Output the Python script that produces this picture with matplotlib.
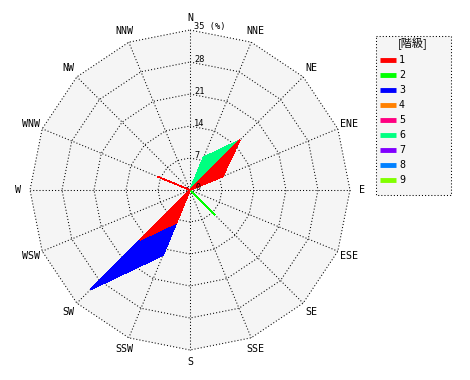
import numpy as np
import matplotlib
matplotlib.use("Agg")
import matplotlib.pyplot as plt
from matplotlib.patches import Polygon, Rectangle

# ---- data ----
directions = ['N', 'NNE', 'NE', 'ENE', 'E', 'ESE', 'SE', 'SSE',
              'S', 'SSW', 'SW', 'WSW', 'W', 'WNW', 'NW', 'NNW']
class_labels = ['1', '2', '3', '4', '5', '6', '7', '8', '9']
class_colors = ['#ff0000', '#00ff00', '#0000ff', '#ff8000', '#ff0080',
                '#00ff80', '#8000ff', '#0080ff', '#80ff00']
#            N  NNE   NE   ENE  E  ESE  SE  SSE S  SSW  SW   WSW W  WNW  NW NNW
class1 = [0, 0, 15.4, 7.7, 0, 0, 0, 0, 0, 7.7, 15.4, 0, 0, 7.7, 0, 0]
class2 = [0, 0, 0, 0, 0, 0, 7.7, 0, 0, 0, 0, 0, 0, 0, 0, 0]
class3 = [0, 0, 0, 0, 0, 0, 0, 0, 0, 7.7, 15.4, 0, 0, 0, 0, 0]
class4 = [0] * 16
class5 = [0] * 16
class6 = [0, 7.7, 0, 0, 0, 0, 0, 0, 0, 0, 0, 0, 0, 0, 0, 0]
class7 = [0] * 16
class8 = [0] * 16
class9 = [0] * 16
ring_ticks = [7, 14, 21, 28, 35]
legend_title = '[階級]'

series = np.array([class1, class2, class3, class4, class5,
                   class6, class7, class8, class9], dtype=float)
rmax = ring_ticks[-1]

# ---- figure ----
W, H = 470, 380
fig = plt.figure(figsize=(W / 100, H / 100), dpi=100)
fig.patch.set_facecolor('white')
ax = fig.add_axes([0, 0, 1, 1])
scale = 160 / rmax  # px per unit
cx, cy = 190, 190
ax.set_xlim(-cx / scale, (W - cx) / scale)
ax.set_ylim(-(H - cy) / scale, cy / scale)
ax.axis('off')

theta = np.deg2rad(np.arange(len(directions)) * 360 / len(directions))
sx, sy = np.sin(theta), np.cos(theta)

dotted = (0, (1, 2))
# background
ax.add_patch(Polygon(np.column_stack([rmax * sx, rmax * sy]), closed=True,
                     fc='#f5f5f5', ec='none', zorder=0))
# rings
for r in ring_ticks:
    xs = np.append(r * sx, r * sx[0])
    ys = np.append(r * sy, r * sy[0])
    ax.plot(xs, ys, color='black', lw=0.75, ls=dotted, zorder=1)
# spokes
for i in range(len(directions)):
    ax.plot([0, rmax * sx[i]], [0, rmax * sy[i]], color='black', lw=0.75,
            ls=dotted, zorder=1)

# stacked areas
cum = np.cumsum(series, axis=0)
for k in reversed(range(len(class_labels))):
    if not np.any(series[k] > 0):
        continue
    pts = np.column_stack([cum[k] * sx, cum[k] * sy])
    ax.add_patch(Polygon(pts, closed=True, fc=class_colors[k],
                         ec=class_colors[k], lw=0.5, zorder=3,
                         antialiased=False))

mono = 'DejaVu Sans Mono'
# direction labels
rl = 172 / scale
for i, d in enumerate(directions):
    ax.text(rl * sx[i], rl * sy[i], d, ha='center', va='center',
            fontsize=7.2, family=mono, color='black', zorder=5)
# ring labels
ax.text(5 / scale, 3 / scale, '0', ha='left', va='center', fontsize=6,
        family=mono, zorder=5)
for r in ring_ticks:
    lab = f'{r}' if r != rmax else f'{r} (%)'
    ax.text(4 / scale, r + 3 / scale, lab, ha='left', va='center',
            fontsize=6.2, family=mono, zorder=5)

# legend (pixel coordinate axes)
lx0, ly0, lw_, lh_ = 375, 35, 76, 160
lax = fig.add_axes([lx0 / W, 1 - (ly0 + lh_) / H, lw_ / W, lh_ / H])
lax.set_xlim(0, lw_)
lax.set_ylim(lh_, 0)
lax.axis('off')
lax.add_patch(Rectangle((0.5, 0.5), lw_ - 1, lh_ - 1, fc='#f5f5f5',
                        ec='black', lw=0.75, ls=dotted, clip_on=False))
lax.text(lw_ / 2, 9, legend_title, ha='center', va='center', fontsize=8,
         family=['Noto Sans CJK JP', 'DejaVu Sans'])
for i, (lab, col) in enumerate(zip(class_labels, class_colors)):
    yy = 25 + 15 * i
    lax.plot([5, 21], [yy, yy], color=col, lw=3.5, solid_capstyle='butt')
    lax.text(24, yy, lab, ha='left', va='center', fontsize=7.2, family=mono)

fig.savefig('out.png', dpi=100, facecolor='white')
